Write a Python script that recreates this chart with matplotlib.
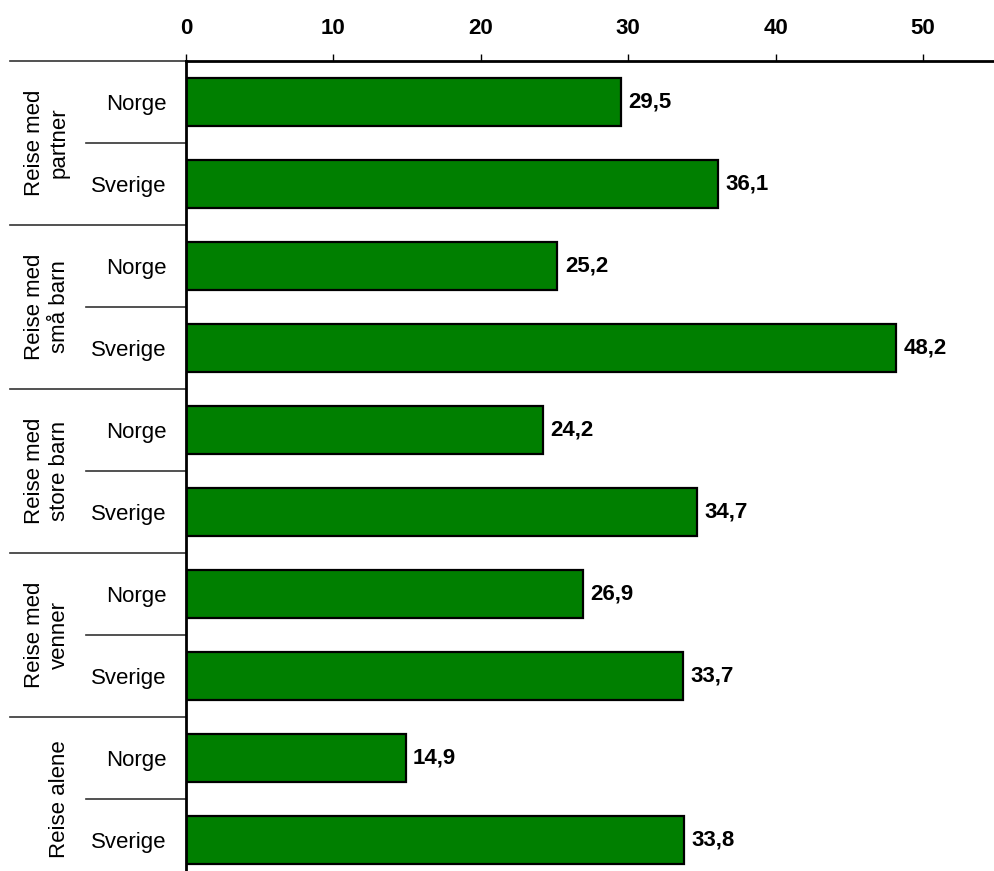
import matplotlib
matplotlib.use('Agg')
import matplotlib.pyplot as plt
from matplotlib.transforms import blended_transform_factory

plt.rcParams['font.family'] = ['Liberation Sans', 'DejaVu Sans']

groups = ["Reise med\npartner", "Reise med\nsmå barn", "Reise med\nstore barn",
          "Reise med\nvenner", "Reise alene"]
countries = ["Norge", "Sverige"]
norge = [29.5, 25.2, 24.2, 26.9, 14.9]
sverige = [36.1, 48.2, 34.7, 33.7, 33.8]
xticks = [0, 10, 20, 30, 40, 50]

W, H = 994, 871
fig = plt.figure(figsize=(W / 100, H / 100), dpi=100)
left, top = 186, 61
ax = fig.add_axes([left / W, 0, 1 - left / W, 1 - top / H])

values = []
labels = []
for n, s in zip(norge, sverige):
    values += [n, s]
    labels += countries
ypos = list(range(len(values)))

slot = 82.0
nslots = (H - top) / slot
ax.barh(ypos, values, height=0.585, color='#007f00', edgecolor='black', linewidth=1.6)
ax.set_ylim(-0.5 + nslots, -0.5)
ax.set_xlim(0, (W - left) / 14.74)

for y, v in zip(ypos, values):
    ax.text(v + 0.5, y, f"{v:.1f}".replace('.', ','), va='center', ha='left',
            fontsize=16, fontweight='bold')

ax.xaxis.tick_top()
ax.set_xticks(xticks)
ax.set_xticklabels([str(t) for t in xticks], fontsize=16, fontweight='bold')
ax.tick_params(axis='x', direction='out', length=5, width=1, pad=11)

ax.set_yticks(ypos)
ax.set_yticklabels(labels, fontsize=16)
ax.tick_params(axis='y', length=0, pad=14)

for side in ['right', 'bottom']:
    ax.spines[side].set_visible(False)
ax.spines['top'].set_linewidth(2)
ax.spines['left'].set_linewidth(2)

trans = blended_transform_factory(ax.transAxes, ax.transData)
x_group = (10 - left) / (W - left)
x_inner = (86 - left) / (W - left)
for g in range(len(groups) + 1):
    y = 2 * g - 0.5
    ax.plot([x_group, 0], [y, y], transform=trans, color='#333333', lw=1.2, clip_on=False)
for g in range(len(groups)):
    y = 2 * g + 0.5
    ax.plot([x_inner, 0], [y, y], transform=trans, color='#333333', lw=1.2, clip_on=False)

x_glabel = (70 - left) / (W - left)
for g, name in enumerate(groups):
    ax.text(x_glabel, 2 * g + 0.5, name, transform=trans, rotation=90,
            ha='right', va='center', multialignment='center', fontsize=16,
            linespacing=1.25)

fig.savefig('out.png', dpi=100)
